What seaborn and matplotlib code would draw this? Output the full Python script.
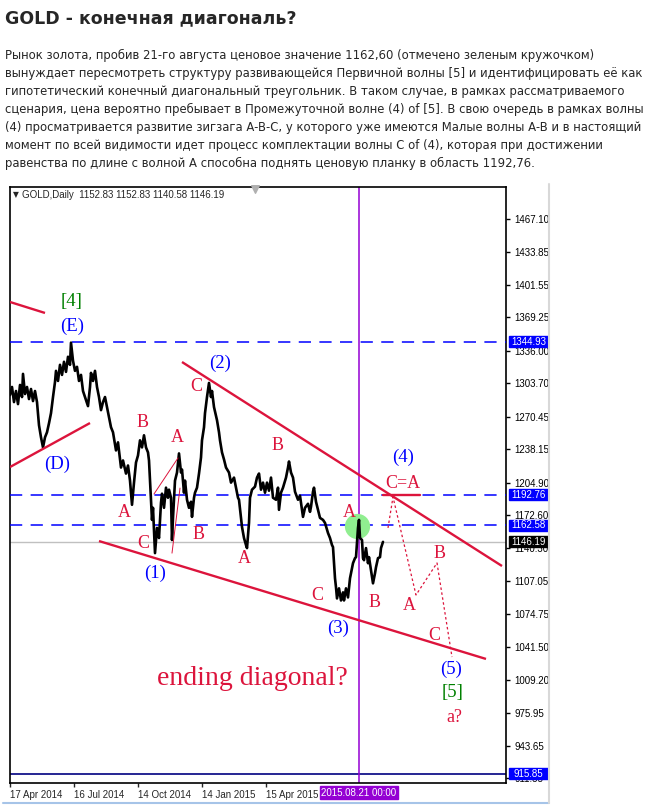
import matplotlib
matplotlib.use("Agg")
import matplotlib.pyplot as plt
import matplotlib.transforms as mtransforms
from matplotlib.patches import Rectangle
from matplotlib.lines import Line2D
import pandas as pd
import seaborn as sns

# price path: bar number counted from 17 Apr 2014 and close
bars = [0, 2, 4, 6, 8, 10, 12, 13, 15, 17, 19, 21, 23, 25, 27, 29, 31, 33, 35, 37,
        39, 41, 43, 45, 46, 48, 50, 52, 54, 56, 58, 60, 61, 63, 65, 67, 69, 71, 73, 75,
        77, 78, 80, 81, 83, 85, 87, 89, 91, 93, 95, 97, 99, 101, 103, 106, 108, 111, 113, 116,
        118, 120, 122, 124, 126, 128, 130, 132, 134, 136, 138, 139, 140, 142, 143, 145, 147, 149, 151, 152,
        154, 156, 158, 159, 161, 162, 163, 165, 167, 169, 171, 172, 174, 175, 177, 179, 181, 182, 184, 185,
        187, 189, 191, 192, 194, 195, 197, 199, 201, 202, 204, 207, 209, 210, 212, 214, 216, 219, 221, 224,
        226, 228, 229, 231, 232, 234, 236, 237, 239, 240, 242, 245, 247, 249, 251, 253, 255, 257, 259, 261,
        263, 266, 268, 269, 271, 273, 276, 278, 279, 281, 283, 285, 288, 290, 293, 295, 298, 300, 301, 303,
        304, 306, 308, 310, 313, 315, 318, 320, 322, 323, 325, 326, 327, 329, 331, 333, 334, 336, 338, 340,
        341, 343, 345, 346, 348, 349, 350, 352, 353, 354, 356, 358, 359, 361, 363, 365, 366, 368, 370, 371,
        373]
closes = [1292, 1300, 1285, 1296, 1283, 1302, 1290, 1313, 1293, 1300, 1288, 1298, 1286, 1296, 1285, 1262, 1250, 1240, 1250, 1255,
          1264, 1274, 1290, 1305, 1316, 1306, 1322, 1312, 1325, 1315, 1330, 1322, 1344, 1326, 1316, 1320, 1306, 1312, 1296, 1290,
          1284, 1281, 1300, 1314, 1306, 1316, 1300, 1290, 1277, 1285, 1290, 1280, 1270, 1260, 1255, 1237, 1245, 1220, 1227, 1214,
          1222, 1207, 1183, 1205, 1225, 1232, 1247, 1240, 1252, 1240, 1235, 1227, 1207, 1168, 1180, 1135, 1160, 1150, 1185, 1194,
          1180, 1200, 1190, 1198, 1190, 1148, 1170, 1207, 1215, 1234, 1215, 1218, 1195, 1207, 1188, 1180, 1186, 1171, 1190, 1195,
          1200, 1214, 1230, 1247, 1260, 1274, 1290, 1304, 1290, 1296, 1280, 1267, 1255, 1247, 1235, 1228, 1220, 1215, 1205, 1210,
          1200, 1190, 1188, 1170, 1161, 1150, 1143, 1140, 1165, 1190, 1198, 1201, 1210, 1214, 1198, 1205, 1195, 1205, 1197, 1210,
          1190, 1188, 1200, 1178, 1195, 1200, 1210, 1220, 1226, 1215, 1210, 1196, 1188, 1192, 1171, 1180, 1184, 1176, 1181, 1196,
          1200, 1186, 1178, 1170, 1168, 1165, 1155, 1150, 1143, 1141, 1110, 1101, 1090, 1100, 1088, 1096, 1088, 1100, 1091, 1110,
          1115, 1125, 1130, 1131, 1160, 1168, 1150, 1148, 1130, 1128, 1140, 1125, 1131, 1118, 1105, 1115, 1121, 1130, 1131, 1140,
          1146.19]

price_ticks = [1467.10, 1433.85, 1401.55, 1369.25, 1336.00, 1303.70, 1270.45, 1238.15, 1204.90,
               1172.60, 1140.30, 1107.05, 1074.75, 1041.50, 1009.20, 975.95, 943.65, 911.35]
date_bars = [0, 64, 128, 192, 256]
date_labels = ["17 Apr 2014", "16 Jul 2014", "14 Oct 2014", "14 Jan 2015", "15 Apr 2015"]
cursor_bar = 349
cursor_label = "2015.08.21 00:00"

dashed_levels = [1344.93, 1192.76, 1162.58]
last_price = 1146.19
low_level = 915.85
header = "GOLD,Daily  1152.83 1152.83 1140.58 1146.19"

# trend lines as ((bar, price), (bar, price))
trend_lines = [((0, 1384.4), (35, 1373.5)),
               ((0, 1220.5), (80, 1264.2)),
               ((172, 1324.8), (492, 1122.2)),
               ((89, 1147.0), (476, 1029.9))]
thin_lines = [((144, 1193.7), (168, 1229.5)),
              ((162, 1135.0), (170, 1199.6))]
target_line = ((373, 1192.76), (410, 1192.76))
proj_bars = [378, 383, 406, 427, 442]
proj_prices = [1160.0, 1190.7, 1093.4, 1125.2, 1031.8]
circle_point = (347, 1162.0)

red_labels = [("C", 186, 1300.0), ("B", 133, 1265.2), ("A", 167, 1250.3), ("B", 268, 1241.4),
              ("A", 114, 1175.8), ("C", 133, 1145.0), ("B", 189, 1153.0), ("A", 234, 1130.1),
              ("C", 307, 1093.3), ("B", 365, 1086.3), ("A", 339, 1175.8), ("C=A", 393, 1204.6),
              ("B", 430, 1135.0), ("A", 399, 1083.3), ("C", 424, 1053.5), ("a?", 444, 972.1)]
blue_labels = [("(E)", 62, 1360.5), ("(2)", 210, 1323.8), ("(D)", 47, 1223.5), ("(1)", 145, 1115.2),
               ("(3)", 328, 1060.5), ("(4)", 393, 1230.5), ("(5)", 441, 1019.8)]
green_labels = [("[4]", 62, 1384.4), ("[5]", 443, 996.9)]

title = "GOLD - конечная диагональ?"
paragraph = [
    "Рынок золота, пробив 21-го августа ценовое значение 1162,60 (отмечено зеленым кружочком)",
    "вынуждает пересмотреть структуру развивающейся Первичной волны [5] и идентифицировать её как",
    "гипотетический конечный диагональный треугольник. В таком случае, в рамках рассматриваемого",
    "сценария, цена вероятно пребывает в Промежуточной волне (4) of [5]. В свою очередь в рамках волны",
    "(4) просматривается развитие зигзага A-B-C, у которого уже имеются Малые волны A-B и в настоящий",
    "момент по всей видимости идет процесс комплектации волны C of (4), которая при достижении",
    "равенства по длине с волной A способна поднять ценовую планку в область 1192,76.",
]

sns.set_style("white")
plt.rcParams["font.family"] = ["DejaVu Sans"]
small = ["Liberation Sans", "DejaVu Sans"]
serif = ["Liberation Serif", "DejaVu Serif"]
RED = "#dc143c"
BLUE = "#0000ff"
GREEN = "#008000"
PURPLE = "#9400d3"
SMALL_FS = 7

W, H = 656, 808
fig = plt.figure(figsize=(W / 100, H / 100), dpi=100)
ax = fig.add_axes([10 / W, 1 - 783 / H, 496 / W, 596 / H])

df = pd.DataFrame({"bar": bars, "close": closes})
sns.lineplot(data=df, x="bar", y="close", ax=ax, color="black", lw=1.9,
             estimator=None, sort=False, zorder=4)

ax.set_xlim(0, 496)
ax.set_ylim(906.7, 1498.6)
ax.set_xlabel("")
ax.set_ylabel("")
for s in ax.spines.values():
    s.set_color("black")
    s.set_linewidth(1.2)

# levels
for lv in dashed_levels:
    ax.axhline(lv, color=BLUE, lw=1.1, dashes=(8, 5.5), zorder=3)
ax.axhline(last_price, color="#c0c0c0", lw=1, zorder=2)
ax.axhline(low_level, color="#000080", lw=1.2, zorder=2)
ax.axvline(cursor_bar, color=PURPLE, lw=1.1, zorder=2)

# marked point
ax.scatter([circle_point[0]], [circle_point[1]], s=330, color="#90ee90", zorder=3, lw=0)

for (x0, y0), (x1, y1) in trend_lines:
    ax.plot([x0, x1], [y0, y1], color=RED, lw=1.7, zorder=5, solid_capstyle="butt")
for (x0, y0), (x1, y1) in thin_lines:
    ax.plot([x0, x1], [y0, y1], color=RED, lw=0.7, zorder=5)
ax.plot([target_line[0][0], target_line[1][0]], [target_line[0][1], target_line[1][1]],
        color=RED, lw=1.7, zorder=5)
ax.plot(proj_bars, proj_prices, color=RED, lw=0.9, ls=(0, (2, 2)), zorder=5)

for txt, x, y in red_labels:
    ax.text(x, y, txt, color=RED, fontsize=13, family=serif, ha="center", va="center", zorder=6)
for txt, x, y in blue_labels:
    ax.text(x, y, txt, color=BLUE, fontsize=13.5, family=serif, ha="center", va="center", zorder=6)
for txt, x, y in green_labels:
    ax.text(x, y, txt, color=GREEN, fontsize=13.5, family=serif, ha="center", va="center", zorder=6)
ax.text(242, 1010.0, "ending diagonal?", color=RED, fontsize=20, family=serif,
        ha="center", va="center", zorder=6)

# right price scale
ax.yaxis.tick_right()
ax.set_yticks(price_ticks)
ax.set_yticklabels([f"{v:.2f}" for v in price_ticks])
ax.tick_params(axis="y", direction="out", length=3, width=1, pad=3, labelsize=SMALL_FS,
               colors="black", right=True, left=False)
for lab in ax.get_yticklabels():
    lab.set_family(small)

# bottom date scale
ax.set_xticks(date_bars)
ax.set_xticklabels(date_labels)
ax.tick_params(axis="x", direction="out", length=3, width=1, pad=2, labelsize=SMALL_FS, bottom=True)
for lab in ax.get_xticklabels():
    lab.set_family(small)
    lab.set_horizontalalignment("left")

# highlighted price boxes
bt = mtransforms.blended_transform_factory(fig.transFigure, ax.transData)
ppu = 596 / (1498.6 - 906.7)
for lv, bg in [(1344.93, BLUE), (1192.76, BLUE), (1162.58, BLUE), (last_price, "black"), (low_level, BLUE)]:
    h = 11 / ppu
    ax.add_patch(Rectangle((509 / W, lv - h / 2), 39 / W, h, transform=bt, color=bg,
                           clip_on=False, zorder=10))
    ax.text(528.5 / W, lv, f"{lv:.2f}", transform=bt, color="white", fontsize=SMALL_FS,
            family=small, va="center", ha="center", zorder=11, clip_on=False)

# cursor date box
bx = mtransforms.blended_transform_factory(ax.transData, fig.transFigure)
ax.add_patch(Rectangle((cursor_bar - 39, 1 - 799 / H), 78, 13 / H, transform=bx,
                       color=PURPLE, clip_on=False, zorder=10))
ax.text(cursor_bar, 1 - 792.5 / H, cursor_label, transform=bx, color="white", fontsize=SMALL_FS,
        family=small, ha="center", va="center", zorder=11)

# chart header and small markers
ax.text(3 / 496, 1 - 8 / 596, "\u25bc", transform=ax.transAxes, fontsize=5.5,
        family=["DejaVu Sans"], va="center", ha="left")
ax.text(12 / 496, 1 - 8 / 596, header, transform=ax.transAxes, fontsize=SMALL_FS,
        family=small, va="center", ha="left")
fig.add_artist(Line2D([3 / W, 549 / W], [1 - 803 / H] * 2, color="#a6c4e8", lw=1.5))
fig.add_artist(Line2D([549 / W] * 2, [1 - 184 / H, 1 - 803 / H], color="#d8d8d8", lw=1.5))
ax.scatter([245], [1496.5], marker="v", s=30, color="#b0b0b0", clip_on=False, zorder=7)

# page text
fig.text(5 / W, 1 - 18 / H, title, fontsize=12.5, fontweight="bold", va="center", ha="left")
for i, line in enumerate(paragraph):
    fig.text(5 / W, 1 - (55 + 18.1 * i) / H, line, fontsize=8.4, va="center", ha="left")

fig.savefig("out.png", dpi=100)
